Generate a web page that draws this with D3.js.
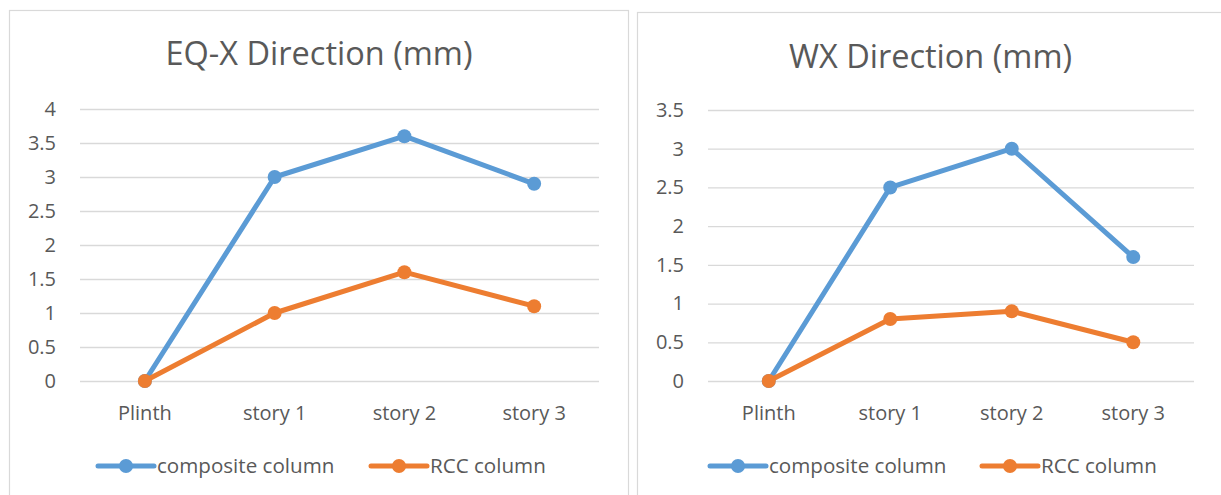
<!DOCTYPE html>
<html>
<head>
<meta charset="utf-8">
<script src="https://cdn.jsdelivr.net/npm/d3@7"></script>
<style>
  html, body { margin: 0; padding: 0; background: #fff; }
  svg { display: block; }
  text { font-family: "Open Sans", "Liberation Sans", sans-serif; fill: #595959; }
</style>
</head>
<body>
<svg id="chart" width="1221" height="495"></svg>
<script>
const categories = ["Plinth", "story 1", "story 2", "story 3"];
const seriesNames = ["composite column", "RCC column"];
const seriesColors = ["#5B9BD5", "#ED7D31"];

const eqxTitle = "EQ-X Direction (mm)";
const eqxComposite = [0, 3, 3.6, 2.9];
const eqxRCC = [0, 1, 1.6, 1.1];
const eqxTicks = [0, 0.5, 1, 1.5, 2, 2.5, 3, 3.5, 4];
const eqxTickLabels = ["0", "0.5", "1", "1.5", "2", "2.5", "3", "3.5", "4"];

const wxTitle = "WX Direction (mm)";
const wxComposite = [0, 2.5, 3, 1.6];
const wxRCC = [0, 0.8, 0.9, 0.5];
const wxTicks = [0, 0.5, 1, 1.5, 2, 2.5, 3, 3.5];
const wxTickLabels = ["0", "0.5", "1", "1.5", "2", "2.5", "3", "3.5"];

const svg = d3.select("#chart");
const FS = "20px";

function drawPanel(cfg) {
  const g = svg.append("g");
  // panel border
  g.append("rect")
    .attr("x", cfg.box[0] + 0.5).attr("y", cfg.box[1] + 0.5)
    .attr("width", cfg.box[2]).attr("height", cfg.box[3])
    .attr("fill", "#fff").attr("stroke", "#D9D9D9").attr("stroke-width", 1.2);

  const x = d3.scaleBand().domain(categories).range([cfg.plot[0], cfg.plot[1]]);
  const y = d3.scaleLinear().domain([0, d3.max(cfg.ticks)]).range([cfg.plot[3], cfg.plot[2]]);

  // title
  g.append("text").attr("x", cfg.titleX).attr("y", cfg.titleY)
    .attr("text-anchor", "middle").style("font-size", "32.5px").text(cfg.title);

  // y axis with gridlines
  const yAxis = d3.axisLeft(y).tickValues(cfg.ticks)
    .tickFormat((d, i) => cfg.tickLabels[i])
    .tickSize(-(cfg.plot[1] - cfg.plot[0])).tickPadding(cfg.plot[0] - cfg.labelRight);
  const ya = g.append("g").attr("transform", `translate(${cfg.plot[0]},0)`).call(yAxis);
  ya.select(".domain").remove();
  ya.selectAll(".tick line").attr("stroke", "#D9D9D9").attr("stroke-width", 1.3);
  ya.selectAll(".tick text").style("font-size", FS).attr("fill", "#595959");

  // x axis
  const xAxis = d3.axisBottom(x).tickSize(0).tickPadding(24.5);
  const xa = g.append("g").attr("transform", `translate(0,${cfg.plot[3]})`).call(xAxis);
  xa.select(".domain").remove();
  xa.selectAll(".tick text").style("font-size", FS).attr("fill", "#595959");

  const cx = d => x(d) + x.bandwidth() / 2;
  const line = d3.line().x((d, i) => cx(categories[i])).y(d => y(d));

  cfg.series.forEach((vals, si) => {
    g.append("path").datum(vals).attr("d", line)
      .attr("fill", "none").attr("stroke", seriesColors[si])
      .attr("stroke-width", 5).attr("stroke-linejoin", "round").attr("stroke-linecap", "round");
    g.selectAll(null).data(vals).enter().append("circle")
      .attr("cx", (d, i) => cx(categories[i])).attr("cy", d => y(d))
      .attr("r", 7).attr("fill", seriesColors[si]);
  });

  // legend
  cfg.legend.forEach((lx, si) => {
    const ly = cfg.legendY;
    g.append("line").attr("x1", lx).attr("x2", lx + 56).attr("y1", ly).attr("y2", ly)
      .attr("stroke", seriesColors[si]).attr("stroke-width", 5).attr("stroke-linecap", "round");
    g.append("circle").attr("cx", lx + 28).attr("cy", ly).attr("r", 7).attr("fill", seriesColors[si]);
    g.append("text").attr("x", lx + 59).attr("y", ly).attr("dy", "0.35em")
      .style("font-size", "20.6px").text(seriesNames[si]);
  });
}

drawPanel({
  box: [9, 10, 619, 500],
  plot: [80, 599, 109, 381],
  labelRight: 56,
  ticks: eqxTicks, tickLabels: eqxTickLabels,
  title: eqxTitle, titleX: 319, titleY: 65,
  series: [eqxComposite, eqxRCC],
  legend: [98, 371], legendY: 466
});

drawPanel({
  box: [637, 12, 600, 500],
  plot: [708, 1194, 110, 381],
  labelRight: 684,
  ticks: wxTicks, tickLabels: wxTickLabels,
  title: wxTitle, titleX: 930.5, titleY: 68,
  series: [wxComposite, wxRCC],
  legend: [710, 982], legendY: 466
});
</script>
</body>
</html>
